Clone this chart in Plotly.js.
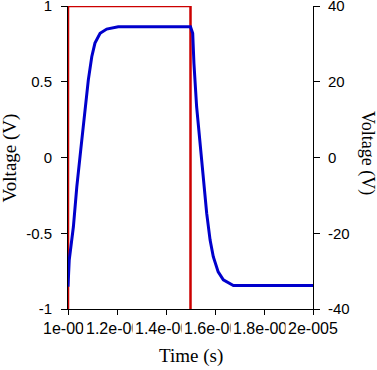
<!DOCTYPE html>
<html>
<head>
<meta charset="utf-8">
<script src="https://cdn.plot.ly/plotly-3.0.1.min.js"></script>
<style>html,body{margin:0;padding:0;background:#fff;}#chart{width:377px;height:370px;}</style>
</head>
<body>
<div id="chart"></div>
<script>
// Square input pulse (left axis, V)
var timeRed = [1.0e-5, 1.0e-5, 1.5e-5, 1.5e-5];
var voltRed = [-1, 1, 1, -1];

// Response (right axis, V)
var timeBlue = [1.0e-5, 1.005e-5, 1.022e-5, 1.036e-5, 1.052e-5, 1.069e-5, 1.083e-5, 1.097e-5, 1.110e-5, 1.131e-5, 1.158e-5, 1.205e-5, 1.35e-5, 1.5e-5,
                1.509e-5, 1.514e-5, 1.525e-5, 1.539e-5, 1.552e-5, 1.566e-5, 1.580e-5, 1.593e-5, 1.613e-5, 1.634e-5, 1.675e-5, 1.8e-5, 2.0e-5];
var voltBlue = [-34.1, -27.1, -18.3, -7.7, 2.0, 12.5, 20.5, 26.6, 30.2, 32.8, 33.9, 34.5, 34.5, 34.5,
                32.8, 24.9, 13.4, 3.8, -5.9, -14.7, -21.8, -26.2, -30.2, -32.3, -33.8, -33.8, -33.8];

var xTickVals = [1.0e-5, 1.2e-5, 1.4e-5, 1.6e-5, 1.8e-5, 2.0e-5];
var xTickText = ["1e-005", "1.2e-005", "1.4e-005", "1.6e-005", "1.8e-005", "2e-005"];
var yTickVals = [-1, -0.5, 0, 0.5, 1];
var yTickText = ["-1", "-0.5", "0", "0.5", "1"];
var y2TickVals = [-40, -20, 0, 20, 40];
var y2TickText = ["-40", "-20", "0", "20", "40"];

var tickFont = {family: "Liberation Sans, Arial, sans-serif", size: 15, color: "#000"};
var xTickFont = {family: "Liberation Sans, Arial, sans-serif", size: 16, color: "#000"};
var titleFont = {family: "Liberation Serif, Times New Roman, serif", size: 19, color: "#000"};
var titleFontR = {family: "Liberation Serif, Times New Roman, serif", size: 18, color: "#000"};

var traces = [
  {x: timeRed, y: voltRed, type: "scatter", mode: "lines", yaxis: "y",
   line: {color: "#CC0000", width: 2.5}, showlegend: false, hoverinfo: "skip"},
  {x: timeBlue, y: voltBlue, type: "scatter", mode: "lines", yaxis: "y2",
   line: {color: "#0000CC", width: 3}, showlegend: false, hoverinfo: "skip"}
];

var annotations = [];
for (var i = 0; i < xTickVals.length; i++) {
  annotations.push({x: xTickVals[i], xref: "x", y: -0.066, yref: "paper",
    text: xTickText[i], showarrow: false, xanchor: "center", yanchor: "middle",
    bgcolor: "#ffffff", borderpad: 2, font: xTickFont});
}
annotations.push({x: 0.5, xref: "paper", y: -0.155, yref: "paper", text: "Time (s)",
  showarrow: false, xanchor: "center", yanchor: "middle", font: titleFont});
annotations.push({x: -0.237, xref: "paper", y: 0.5, yref: "paper", text: "Voltage (V)",
  showarrow: false, xanchor: "center", yanchor: "middle", textangle: -90, font: titleFont});
annotations.push({x: 1.22, xref: "paper", y: 0.515, yref: "paper", text: "Voltage (V)",
  showarrow: false, xanchor: "center", yanchor: "middle", textangle: 90, font: titleFontR});

var layout = {
  width: 377, height: 370,
  margin: {l: 68, r: 64, t: 6, b: 61, pad: 0},
  paper_bgcolor: "#fff", plot_bgcolor: "#fff",
  showlegend: false,
  xaxis: {range: [1.0e-5, 2.0e-5], tickvals: xTickVals, ticktext: xTickText, showticklabels: false,
    ticks: "outside", ticklen: 5, tickcolor: "#000", tickwidth: 1,
    showline: true, linecolor: "#000", linewidth: 1, showgrid: false, zeroline: false, layer: "below traces"},
  yaxis: {range: [-1, 1], tickvals: yTickVals, ticktext: yTickText, tickfont: tickFont,
    ticks: "outside", ticklen: 6, tickcolor: "#000", tickwidth: 1, ticklabelstandoff: 6, ticklabeloverflow: "allow",
    showline: true, linecolor: "#000", linewidth: 1, showgrid: false, zeroline: false, layer: "below traces"},
  yaxis2: {range: [-40, 40], overlaying: "y", side: "right", tickvals: y2TickVals, ticktext: y2TickText, tickfont: tickFont,
    ticks: "outside", ticklen: 6, tickcolor: "#000", tickwidth: 1, ticklabelstandoff: 5, ticklabeloverflow: "allow",
    showline: true, linecolor: "#000", linewidth: 1, showgrid: false, zeroline: false, layer: "below traces"},
  annotations: annotations
};

Plotly.newPlot("chart", traces, layout, {staticPlot: true, displayModeBar: false});
</script>
</body>
</html>
